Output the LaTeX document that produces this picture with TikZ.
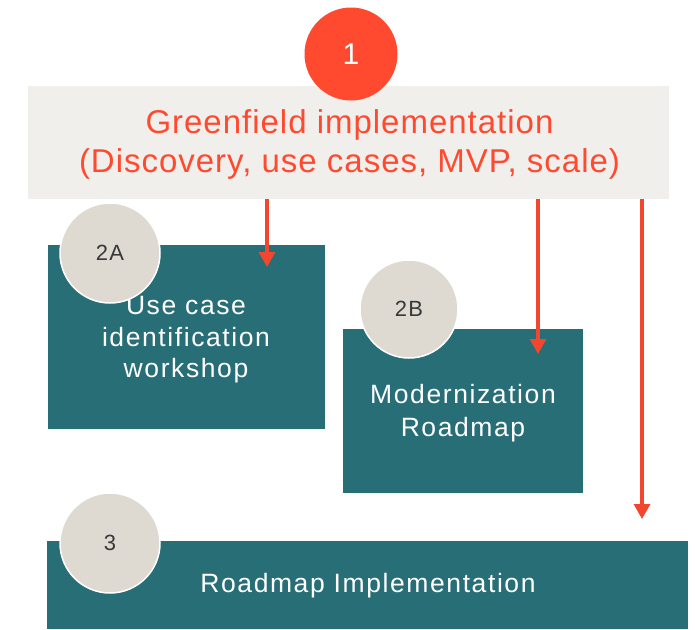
\documentclass[tikz,border=0pt]{standalone}
\usepackage{fontspec}
\setmainfont{Liberation Sans}[LetterSpace=6]
\newfontfamily\titlefont{Liberation Sans}[LetterSpace=3]
\usetikzlibrary{arrows.meta}
\definecolor{gfbg}{HTML}{F0EFEB}
\definecolor{accent}{HTML}{FF4A2F}
\definecolor{arrowred}{HTML}{F2472E}
\definecolor{teal}{HTML}{276E77}
\definecolor{badge}{HTML}{DEDAD2}
\definecolor{badgetext}{HTML}{383838}
\tikzset{
  panel/.style={fill=teal, draw=none, inner sep=0pt},
  badgecircle/.style={circle, fill=badge, draw=white, line width=1.5pt, minimum size=100pt, inner sep=0pt,
     font=\fontsize{22}{25}\selectfont, text=badgetext},
  bodytext/.style={anchor=base, text=white, font=\fontsize{26.5}{30}\selectfont, inner sep=0pt},
  titletext/.style={anchor=base, text=accent, font=\titlefont\fontsize{33}{38}\selectfont, inner sep=0pt},
  flow/.style={draw=arrowred, line width=3.2pt, -{Triangle[length=15pt,width=16pt]}},
}
\begin{document}
\begin{tikzpicture}[x=1pt,y=-1pt]
\useasboundingbox (0,0) rectangle (695,629);
% greenfield box
\path[fill=gfbg] (28,86) rectangle (669,199);
\node[inner sep=0pt, minimum width=641pt, minimum height=113pt] (gf) at (348.5,142.5) {};
\node[titletext] (gft1) at (349.5,133) {Greenfield implementation};
\node[titletext] (gft2) at (349.5,172) {(Discovery, use cases, MVP, scale)};
% panels
\node[panel, minimum width=277pt, minimum height=184pt] (p2a) at (186.5,337) {};
\node[panel, minimum width=240pt, minimum height=164pt] (p2b) at (463,411) {};
\node[panel, minimum width=641pt, minimum height=88pt] (p3) at (367.5,585) {};
% arrows
\coordinate (tipA) at (267,267);
\coordinate (tipB) at (538,354);
\coordinate (tipC) at (642,519);
\draw[flow] (gf.south -| tipA) -- (tipA);
\draw[flow] (gf.south -| tipB) -- (tipB);
\draw[flow] (gf.south -| tipC) -- (tipC);
% panel texts
\node[bodytext] (t2a1) at (186,314) {Use case};
\node[bodytext] (t2a2) at (186,346) {identification};
\node[bodytext] (t2a3) at (186,377) {workshop};
\node[bodytext] (t2b1) at (463,403) {Modernization};
\node[bodytext] (t2b2) at (463,436) {Roadmap};
\node[bodytext] (t3) at (368,592) {Roadmap Implementation};
% badges
\node[circle, fill=accent, minimum size=93pt, inner sep=0pt, text=white, font=\fontsize{30}{34}\selectfont] (b1) at (351,54) {1};
\node[badgecircle] (b2a) at (110,253) {2A};
\node[badgecircle, minimum size=98pt] (b2b) at (409,309) {2B};
\node[badgecircle] (b3) at (110,543) {3};
\end{tikzpicture}
\end{document}
